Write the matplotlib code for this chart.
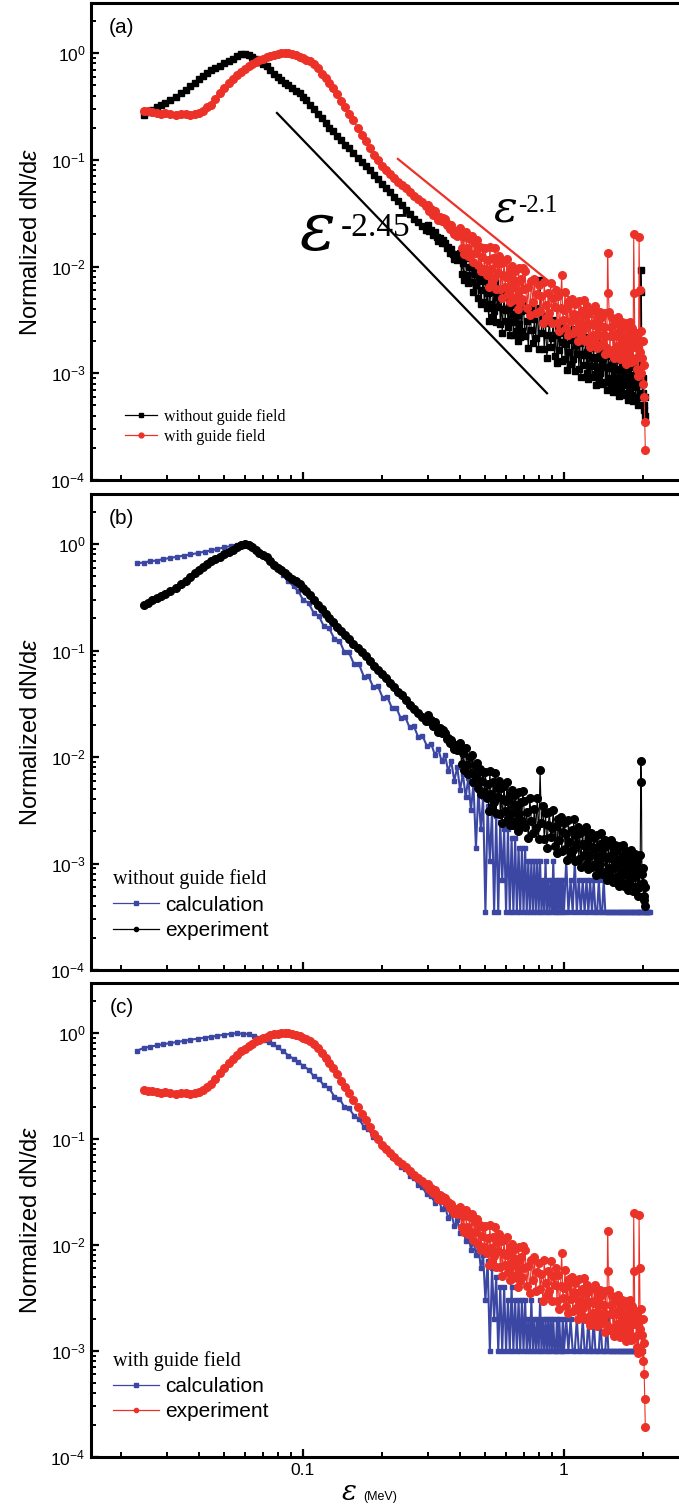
import numpy as np
import matplotlib
matplotlib.use('Agg')
import matplotlib.pyplot as plt
from matplotlib.lines import Line2D
from matplotlib.ticker import FixedLocator, LogLocator, NullFormatter, FuncFormatter

plt.rcParams['font.family'] = ['Liberation Sans', 'DejaVu Sans']
plt.rcParams['mathtext.fontset'] = 'custom'
plt.rcParams['mathtext.rm'] = 'Liberation Sans'
plt.rcParams['mathtext.it'] = 'Liberation Sans:italic'
plt.rcParams['mathtext.bf'] = 'Liberation Sans:bold'

# ---------------- data (energies in keV) ----------------
# experimental energy grid (shared by both experiments)
exp_energy_keV = [
    24.5, 25.5, 26.5, 27.5, 28.5, 29.5, 31, 32.5, 34, 35.5,
    37, 38.5, 40, 41.5, 43, 44.5, 46, 48, 50, 52,
    54, 56, 58, 60, 62, 64, 66, 68, 70, 72.5,
    75, 77.5, 80, 82.5, 85, 88, 91, 94, 97, 100,
    103, 106, 110, 114, 118, 122, 126, 130, 135, 140,
    145, 150, 156, 162, 168, 174, 180, 187, 194, 201,
    208, 216, 224, 232, 240, 249, 258, 267, 276, 285,
    295,
    300, 305, 310, 315, 320, 325, 330, 335, 340, 345,
    350, 355, 360, 365, 370, 375, 380, 385, 390, 395,
    400, 405, 410, 415, 420, 425, 430, 435, 440, 445,
    450, 455, 460, 465, 470, 475, 480, 485, 490, 495,
    500, 505, 510, 515, 520, 525, 530, 535, 540, 545,
    550, 555, 560, 565, 570, 575, 580, 585, 590, 595,
    600, 605, 610, 615, 620, 625, 630, 635, 640, 645,
    650, 655, 660, 665, 670, 675, 680, 685, 690, 695,
    700, 710, 720, 730, 740, 750, 760, 770, 780, 790,
    800, 810, 820, 830, 840, 850, 860, 870, 880, 890,
    900, 910, 920, 930, 940, 950, 960, 970, 980, 990,
    1000, 1010, 1020, 1030, 1040, 1050, 1060, 1070, 1080, 1090,
    1100, 1110, 1120, 1130, 1140, 1150, 1160, 1170, 1180, 1190,
    1200, 1210, 1220, 1230, 1240, 1250, 1260, 1270, 1280, 1290,
    1300, 1310, 1320, 1330, 1340, 1350, 1360, 1370, 1380, 1390,
    1400, 1410, 1420, 1430, 1440, 1450, 1460, 1470, 1480, 1490,
    1500, 1510, 1520, 1530, 1540, 1550, 1560, 1570, 1580, 1590,
    1600, 1610, 1620, 1630, 1640, 1650, 1660, 1670, 1680, 1690,
    1700, 1710, 1720, 1730, 1740, 1750, 1760, 1770, 1780, 1790,
    1800, 1810, 1820, 1830, 1840, 1850, 1860, 1870, 1880, 1890,
    1900, 1910, 1920, 1930, 1940, 1950, 1960, 1970, 1980, 1990,
    2000, 2010, 2020, 2030, 2040, 2050,
]

# experiment without guide field: main part, then tail in units of 1e-4
exp_noguide_main = [
    0.265, 0.28, 0.295, 0.31, 0.325, 0.34, 0.36, 0.39, 0.42, 0.45,
    0.49, 0.53, 0.57, 0.61, 0.65, 0.69, 0.72, 0.76, 0.80, 0.84,
    0.88, 0.94, 0.98, 0.99, 0.97, 0.93, 0.88, 0.83, 0.79, 0.75,
    0.70, 0.64, 0.60, 0.565, 0.53, 0.50, 0.47, 0.445, 0.42, 0.39,
    0.36, 0.33, 0.30, 0.27, 0.245, 0.22, 0.20, 0.185, 0.168, 0.153,
    0.139, 0.128, 0.116, 0.105, 0.096, 0.088, 0.080, 0.072, 0.066, 0.060,
    0.055, 0.050, 0.045, 0.041, 0.038, 0.034, 0.031, 0.028, 0.026, 0.024,
    0.022,
]
exp_noguide_tail = [
    247, 217, 221, 196, 213, 189, 173, 186, 167, 178,
    168, 148, 151, 134, 146, 130, 119, 129, 116, 124,
    134, 86, 109, 75, 121, 84, 70, 99, 71, 104,
    58, 85, 67, 88, 51, 77, 45, 60, 73, 47,
    73, 41, 56, 31, 74, 45, 34, 58, 38, 71,
    30, 52, 42, 60, 29, 51, 24, 40, 53, 31,
    39, 58, 27, 41, 23, 47, 30, 49, 23, 36,
    44, 25, 35, 20, 47, 29, 22, 38, 25, 48,
    39, 22.2, 30.7, 17.3, 41.2, 25.2, 19.3, 32.6, 21.4, 40.9,
    16.9, 75, 23.9, 34.6, 17.0, 29.9, 14.0, 23.0, 30.5, 17.8,
    21.5, 31.8, 14.6, 22.7, 12.6, 26.0, 16.7, 27.2, 13.0, 19.7,
    24.1, 13.7, 19.0, 10.7, 25.7, 15.8, 12.1, 20.5, 13.5, 25.9,
    10.6, 18.5, 15.2, 22.1, 11.0, 19.4, 9.2, 15.2, 20.4, 11.9,
    14.7, 21.9, 10.1, 15.7, 8.8, 18.2, 11.8, 19.3, 9.2, 14.2,
    17.3, 9.9, 13.8, 7.8, 18.7, 11.5, 8.9, 15.1, 10.0, 19.2,
    7.9, 13.9, 11.4, 16.7, 8.3, 14.6, 7.0, 11.5, 15.4, 9.0,
    11.2, 16.7, 7.7, 12.0, 6.7, 14.0, 9.1, 14.8, 7.1, 10.9,
    13.4, 7.7, 10.7, 6.1, 14.5, 9.0, 6.9, 11.8, 7.8, 15.0,
    6.2, 10.9, 9.0, 13.2, 6.6, 11.6, 5.6, 9.2, 12.4, 7.3,
    9.0, 13.4, 6.2, 9.7, 5.5, 11.4, 7.4, 12.2, 5.8, 8.8,
    10.5, 6.0, 8.5, 5.0, 9.0, 6.0, 12.0, 92, 58, 8.0,
    6.5, 9.0, 5.0, 4.5, 6.0, 4.0,
]

# experiment with guide field
exp_guide_main = [
    0.29, 0.285, 0.28, 0.275, 0.27, 0.275, 0.27, 0.265, 0.27, 0.27,
    0.265, 0.27, 0.275, 0.29, 0.31, 0.33, 0.37, 0.42, 0.47, 0.52,
    0.57, 0.62, 0.67, 0.71, 0.75, 0.79, 0.83, 0.86, 0.89, 0.92,
    0.95, 0.97, 0.985, 0.995, 1.0, 0.995, 0.98, 0.96, 0.93, 0.90,
    0.87, 0.84, 0.79, 0.72, 0.64, 0.58, 0.52, 0.47, 0.41, 0.355,
    0.31, 0.27, 0.235, 0.20, 0.17, 0.15, 0.13, 0.112, 0.099, 0.088,
    0.080, 0.073, 0.067, 0.062, 0.058, 0.054, 0.050, 0.046, 0.043, 0.040,
    0.037,
]
exp_guide_tail = [
    378, 334, 343, 306, 333, 297, 272, 294, 266, 284,
    278, 246, 252, 224, 244, 218, 200, 216, 195, 209,
    228, 148, 189, 131, 213, 149, 126, 182, 131, 195,
    111, 166, 133, 177, 103, 154, 90, 122, 149, 95,
    150, 84, 116, 65, 154, 94, 71, 120, 78, 149,
    62, 107, 87, 126, 62, 109, 51, 84, 111, 65,
    80, 119, 55, 85, 47, 98, 63, 102, 49, 75,
    91, 52, 71, 40, 96, 59, 46, 77, 50, 97,
    61, 90, 41.3, 63.8, 35.3, 72.8, 46.8, 76.3, 36.7, 55.7,
    67.6, 38.5, 53.1, 29.9, 71.3, 43.7, 33.5, 56.5, 37.1, 70.8,
    29.3, 51.1, 41.6, 60.5, 29.8, 52.5, 24.8, 40.8, 84, 31.7,
    39.0, 57.8, 26.6, 41.3, 22.9, 47.5, 30.6, 49.7, 23.8, 36.2,
    44.2, 25.3, 35.1, 19.9, 47.6, 29.3, 22.5, 38.3, 25.3, 48.5,
    20.2, 35.3, 29.0, 42.3, 21.0, 37.1, 17.7, 29.2, 39.2, 23.0,
    28.5, 42.3, 19.6, 30.5, 17.1, 35.4, 23.0, 37.4, 18.0, 27.5,
    33.8, 19.4, 26.9, 15.2, 36.5, 22.5, 17.4, 135, 57, 37.5,
    15.6, 27.4, 22.5, 32.9, 16.4, 29.0, 13.9, 22.9, 30.8, 18.1,
    22.5, 33.5, 15.5, 24.2, 13.6, 28.2, 18.4, 30.0, 14.5, 22.2,
    27.3, 15.6, 21.7, 12.3, 29.6, 18.2, 14.1, 23.9, 15.8, 30.4,
    12.7, 22.2, 18.1, 26.3, 13.0, 200, 57, 17.8, 23.6, 13.8,
    22, 11, 18, 9.5, 190, 60, 16, 25, 10, 14,
    20, 8, 12, 6, 3.5, 1.9,
]

# calculation energy grid (shared by both calculations)
calc_energy_keV = [
    23.2, 24.5, 26, 27.5, 29, 31, 33, 35, 37, 39.5,
    42, 44.5, 47, 50, 53, 56, 59, 62, 65, 68,
    71, 74, 77, 80, 84, 88, 92, 96, 100, 105,
    110, 115, 120, 126, 132, 138, 144, 150, 157, 164,
    171, 178, 186, 194, 202, 210, 219, 228, 237, 246,
    256, 266, 276, 287, 298,
    310, 320, 330, 340, 350, 360, 370, 380, 390, 400,
    410, 420, 430, 440, 450, 460, 470, 480, 490, 500,
    510, 520, 530, 540, 550, 560, 570, 580, 590, 600,
    610, 620, 630, 640, 650, 660, 670, 680, 690, 700,
    710, 720, 730, 740, 750, 760, 770, 780, 790, 800,
    810, 820, 830, 840, 850, 860, 870, 880, 890, 900,
    910, 920, 930, 940, 950, 960, 970, 980, 990, 1000,
    1020, 1040, 1060, 1080, 1100, 1120, 1140, 1160, 1180, 1200,
    1220, 1240, 1260, 1280, 1300, 1320, 1340, 1360, 1380, 1400,
    1420, 1440, 1460, 1480, 1500, 1520, 1540, 1560, 1580, 1600,
    1620, 1640, 1660, 1680, 1700, 1720, 1740, 1760, 1780, 1800,
    1820, 1840, 1860, 1880, 1900, 1920, 1940, 1960, 1980, 2000,
    2020, 2040, 2060, 2080, 2100, 2120, 2140,
]

# calculation without guide field: main part, then tail in counts
calc_noguide_main = [
    0.66, 0.67, 0.69, 0.70, 0.72, 0.74, 0.76, 0.78, 0.80, 0.82,
    0.85, 0.87, 0.90, 0.93, 0.96, 0.98, 0.99, 0.97, 0.92, 0.85,
    0.78, 0.71, 0.64, 0.58, 0.51, 0.45, 0.40, 0.36, 0.30, 0.28,
    0.225, 0.212, 0.170, 0.162, 0.128, 0.124, 0.097, 0.096, 0.074, 0.074,
    0.057, 0.058, 0.045, 0.046, 0.036, 0.037, 0.029, 0.029, 0.023, 0.024,
    0.019, 0.0195, 0.0155, 0.0158, 0.0128,
]
calc_noguide_counts = [
    38, 30, 34, 26, 30, 21, 26, 17, 23, 14,
    20, 12, 18, 9, 16, 4, 14, 6, 12, 1,
    10, 3, 9, 1, 8, 1, 7, 2, 6, 1,
    6, 1, 5, 1, 5, 1, 4, 1, 4, 1,
    4, 1, 3, 1, 3, 1, 3, 1, 3, 1,
    3, 1, 2, 1, 3, 1, 2, 1, 2, 1,
    3, 1, 2, 1, 2, 1, 2, 1, 2, 1,
    3, 1, 2, 1, 3, 1, 2, 1, 2, 1,
    2, 1, 2, 1, 2, 1, 1, 2, 1, 1,
    2, 1, 1, 1, 1, 1, 1, 1, 1, 1,
    1, 1, 1, 1, 1, 1, 1, 1, 1, 1,
    1, 1, 1, 1, 1, 1, 1, 1, 1, 1,
    1, 1, 1, 1, 1, 1, 1,
]
calc_noguide_unit = 3.5e-4

# calculation with guide field
calc_guide_main = [
    0.68, 0.72, 0.74, 0.76, 0.78, 0.80, 0.82, 0.84, 0.86, 0.88,
    0.90, 0.92, 0.94, 0.96, 0.98, 0.99, 0.98, 0.97, 0.94, 0.90,
    0.86, 0.82, 0.78, 0.73, 0.67, 0.61, 0.57, 0.53, 0.49, 0.45,
    0.39, 0.37, 0.32, 0.30, 0.25, 0.24, 0.20, 0.195, 0.165, 0.155,
    0.13, 0.124, 0.104, 0.098, 0.083, 0.079, 0.067, 0.064, 0.054, 0.052,
    0.045, 0.043, 0.037, 0.035, 0.030,
]
calc_guide_counts = [
    29, 25, 27, 22, 23, 18, 20, 15, 17, 13,
    15, 11, 13, 9, 11, 8, 10, 6, 8, 3,
    7, 1, 6, 2, 5, 1, 4, 1, 4, 1,
    3, 1, 4, 1, 3, 1, 3, 1, 3, 1,
    3, 1, 2, 1, 3, 1, 2, 1, 2, 1,
    3, 1, 2, 1, 2, 1, 2, 1, 2, 1,
    2, 1, 1, 2, 1, 2, 1, 1, 2, 1,
    2, 1, 2, 1, 1, 2, 1, 1, 2, 1,
    1, 2, 1, 1, 2, 1, 1, 1, 2, 1,
    1, 1, 2, 1, 1, 1, 1, 1, 1, 1,
    1, 1, 1, 1, 1, 1, 1, 1, 1, 1,
    1, 1, 1, 1, 1, 1, 1, 1, 1, 1,
]
calc_guide_unit = 1.0e-3

# power-law guide lines (end points, MeV)
fit_245_x = [0.0795, 0.861]
fit_245_y = [0.275, 6.5e-4]
fit_21_x = [0.231, 1.74]
fit_21_y = [0.102, 1.87e-3]

# ---------------- assemble ----------------
e_exp = np.array(exp_energy_keV) / 1000.0
y_ng = np.concatenate([exp_noguide_main, np.array(exp_noguide_tail) * 1e-4])
y_g = np.concatenate([exp_guide_main, np.array(exp_guide_tail) * 1e-4])

e_calc = np.array(calc_energy_keV) / 1000.0
yc_ng = np.concatenate([calc_noguide_main, np.array(calc_noguide_counts) * calc_noguide_unit])
yc_g = np.concatenate([calc_guide_main, np.array(calc_guide_counts) * calc_guide_unit])
ec_g = e_calc[:len(yc_g)]

RED = '#ec3228'
BLUE = '#3b47a3'
BLACK = '#000000'
serif = 'Liberation Serif'
eps_font = 'DejaVu Serif'

fig = plt.figure(figsize=(6.79, 15.06), dpi=100)
L, W = 91 / 679, 594 / 679
axA = fig.add_axes([L, 1026 / 1506, W, 477 / 1506])
axB = fig.add_axes([L, 536 / 1506, W, 476 / 1506])
axC = fig.add_axes([L, 49 / 1506, W, 474 / 1506])


def style(ax, label, show_x):
    ax.set_xscale('log')
    ax.set_yscale('log')
    ax.set_xlim(0.01541, 2.909)
    ax.set_ylim(1e-4, 2.95)
    ax.xaxis.set_major_locator(FixedLocator([0.1, 1]))
    ax.xaxis.set_minor_locator(LogLocator(base=10, subs=np.arange(2, 10)))
    ax.xaxis.set_minor_formatter(NullFormatter())
    ax.yaxis.set_major_locator(FixedLocator([1e-4, 1e-3, 1e-2, 1e-1, 1]))
    ax.yaxis.set_minor_locator(LogLocator(base=10, subs=np.arange(2, 10), numticks=20))
    ax.yaxis.set_minor_formatter(NullFormatter())
    ax.yaxis.set_major_formatter(FuncFormatter(lambda v, p: r'$10^{%d}$' % round(np.log10(v))))
    if show_x:
        ax.xaxis.set_major_formatter(FuncFormatter(lambda v, p: '0.1' if v < 0.5 else '1'))
    ax.tick_params(which='major', direction='in', length=6, width=1.6, labelsize=12.5,
                   top=False, right=False, labelbottom=show_x, pad=4)
    ax.tick_params(which='minor', direction='in', length=3.6, width=1.4, top=False, right=False)
    for s in ['left', 'bottom', 'top']:
        ax.spines[s].set_linewidth(2.2)
    ax.spines['right'].set_visible(False)
    ax.set_ylabel(r'Normalized dN/d$\varepsilon$', fontsize=17)
    ax.yaxis.set_label_coords(-0.082, 0.5)
    ax.text(0.052, 0.948, label, transform=ax.transAxes, fontsize=15, ha='center', va='center')


for ax, lab, sx in [(axA, '(a)', False), (axB, '(b)', False), (axC, '(c)', True)]:
    style(ax, lab, sx)

# ---- panel (a)
axA.plot(e_exp, y_ng, '-s', color=BLACK, lw=0.8, ms=5, zorder=3)
axA.plot(e_exp, y_g, '-o', color=RED, mec=RED, lw=0.8, ms=5.5, zorder=4)
axA.plot(fit_245_x, fit_245_y, color=BLACK, lw=1.6, zorder=5)
axA.plot(fit_21_x, fit_21_y, color=RED, lw=1.6, zorder=5)
axA.text(0.350, 0.482, 'ε', transform=axA.transAxes, fontsize=48, family=eps_font,
         style='italic', ha='left', va='baseline')
axA.text(0.421, 0.5115, '-2.45', transform=axA.transAxes, fontsize=24, family=serif,
         ha='left', va='baseline')
axA.text(0.678, 0.541, 'ε', transform=axA.transAxes, fontsize=32, family=eps_font,
         style='italic', ha='left', va='baseline')
axA.text(0.719, 0.562, '-2.1', transform=axA.transAxes, fontsize=18, family=serif,
         ha='left', va='baseline')
hA = [Line2D([], [], color=BLACK, marker='s', ms=3.5, lw=0.9),
      Line2D([], [], color=RED, marker='o', ms=3.5, lw=0.9)]
axA.legend(hA, ['without guide field', 'with guide field'], loc='center left',
           bbox_to_anchor=(0.057, 0.111), frameon=False, borderpad=0, borderaxespad=0,
           handlelength=2.0, handletextpad=0.45, labelspacing=0.25,
           prop={'family': serif, 'size': 11.5})

# ---- panel (b)
axB.plot(e_calc, yc_ng, '-s', color=BLUE, mec=BLUE, lw=1.5, ms=3.5, zorder=3)
axB.plot(e_exp, y_ng, '-o', color=BLACK, lw=0.8, ms=5.5, zorder=4)
hB = [Line2D([], [], color=BLUE, marker='s', ms=3, lw=0.9),
      Line2D([], [], color=BLACK, marker='o', ms=3, lw=0.9)]
axB.legend(hB, ['calculation', 'experiment'], loc='center left',
           bbox_to_anchor=(0.037, 0.137), frameon=False, borderpad=0, borderaxespad=0,
           handlelength=2.2, handletextpad=0.3, labelspacing=0.3, fontsize=15,
           title='without guide field', title_fontproperties={'family': serif, 'size': 14.5},
           alignment='left')

# ---- panel (c)
axC.plot(ec_g, yc_g, '-s', color=BLUE, mec=BLUE, lw=1.5, ms=3.5, zorder=3)
axC.plot(e_exp, y_g, '-o', color=RED, mec=RED, lw=0.8, ms=5.5, zorder=4)
hC = [Line2D([], [], color=BLUE, marker='s', ms=3, lw=0.9),
      Line2D([], [], color=RED, marker='o', ms=3, lw=0.9)]
axC.legend(hC, ['calculation', 'experiment'], loc='center left',
           bbox_to_anchor=(0.037, 0.150), frameon=False, borderpad=0, borderaxespad=0,
           handlelength=2.2, handletextpad=0.3, labelspacing=0.3, fontsize=15,
           title='with guide field', title_fontproperties={'family': serif, 'size': 14.5},
           alignment='left')

# x label
fig.text(342 / 679, 1 - 1500 / 1506, 'ε', fontsize=20, family=eps_font, style='italic',
         ha='left', va='baseline')
fig.text(363 / 679, 1 - 1500 / 1506, '(MeV)', fontsize=9, ha='left', va='baseline')

fig.savefig('out.png', dpi=100)
